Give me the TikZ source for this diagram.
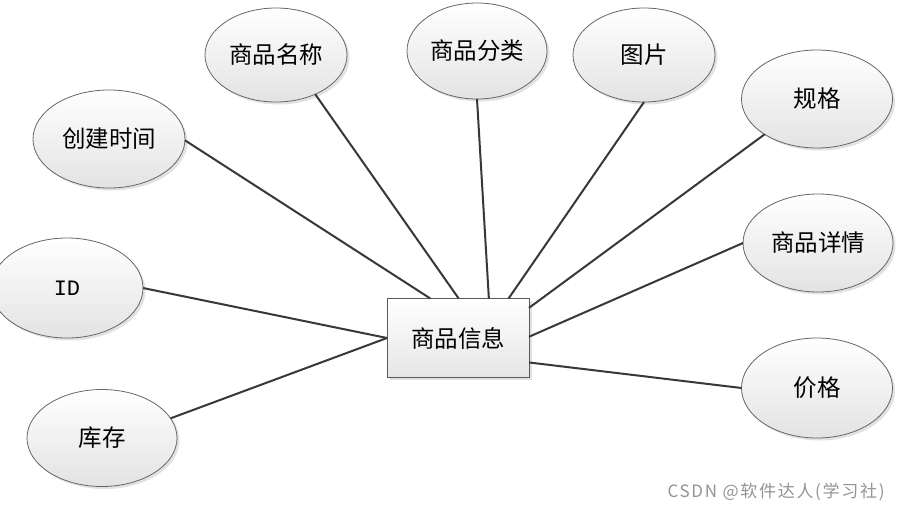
\documentclass[tikz,border=0pt]{standalone}
\usepackage{fontspec}
\newfontfamily\cjk{Noto Sans CJK SC}
\newfontfamily\cjkwm[LetterSpace=10]{Noto Sans CJK SC}
\newfontfamily\monof{Liberation Mono}
\usetikzlibrary{shapes.geometric,shadows}
\begin{document}
\begin{tikzpicture}[x=1pt,y=-1pt,
  attr/.style={ellipse, draw=black!60, line width=0.8pt, top color=white, bottom color=black!11,
    drop shadow={shadow xshift=2.5pt,shadow yshift=-2.5pt,fill=black!25,opacity=0.45},
    inner sep=0pt, outer sep=0pt, font=\cjk\fontsize{23.5}{27}\selectfont},
  ent/.style={rectangle, draw=black!65, line width=0.9pt, top color=white, bottom color=black!10,
    drop shadow={shadow xshift=2.5pt,shadow yshift=-2.5pt,fill=black!25,opacity=0.45},
    minimum width=142pt, minimum height=79pt, inner sep=0pt, outer sep=0pt,
    font=\cjk\fontsize{23.5}{27}\selectfont},
  link/.style={draw=black!78, line width=2pt}]
\useasboundingbox (0,0) rectangle (902,512);
\fill[white] (0,0) rectangle (902,512);

\node[ent] (r) at (458,338) {商品信息};

\node[attr, minimum width=142pt, minimum height=94pt] (mc) at (276,55) {商品名称};
\node[attr, minimum width=140pt, minimum height=96pt] (fl) at (477,51) {商品分类};
\node[attr, minimum width=142pt, minimum height=94pt] (tp) at (644,55) {图片};
\node[attr, minimum width=151pt, minimum height=98pt] (gg) at (817,99) {规格};
\node[attr, minimum width=152pt, minimum height=98pt] (sj) at (109,139) {创建时间};
\node[attr, minimum width=152pt, minimum height=100pt] (id) at (67,288) {\monof\fontsize{22}{25}\selectfont ID};
\node[attr, minimum width=150pt, minimum height=97pt] (kc) at (102,438) {库存};
\node[attr, minimum width=150pt, minimum height=98pt] (xq) at (818,243) {商品详情};
\node[attr, minimum width=151pt, minimum height=100pt] (jg) at (817,388) {价格};

\draw[link] (sj.-1) -- (r.125);
\draw[link] (mc.-45) -- (r.89);
\draw[link] (fl.south) -- (r.52);
\draw[link] (tp.south) -- (r.38);
\draw[link] (gg.-146) -- (r.23);
\draw[link] (xq.west) -- (r.1);
\draw[link] (jg.west) -- (r.-19);
\draw[link] (id.east) -- (r.180);
\draw[link] (kc.16) -- (r.180);

\node[text=black!42, font=\cjkwm\fontsize{17}{19}\selectfont, inner sep=0pt] (wm) at (776,492) {CSDN @软件达人(学习社)};
\end{tikzpicture}
\end{document}
